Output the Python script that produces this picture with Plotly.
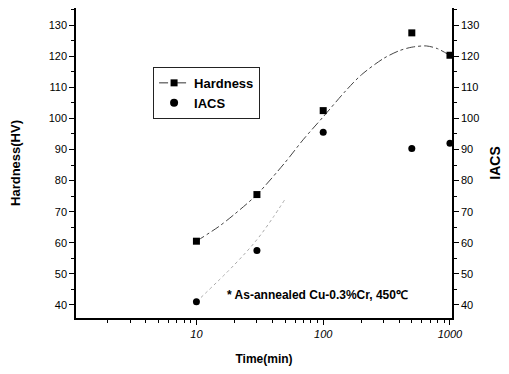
import plotly.graph_objects as go

# Measured data
time_min = [10, 30, 100, 500, 1000]
hardness = [60.5, 75.5, 102.5, 127.5, 120.3]
iacs = [41, 57.5, 95.5, 90.3, 92]

# Fitted hardness curve
fit_time = [10, 15, 20, 30, 50, 70, 100, 150, 200, 300, 400, 500, 650, 800, 1000]
fit_hard = [60.5, 65.2, 69.2, 75.5, 85.8, 93.3, 100.5, 108.8, 114.0, 119.3, 121.8, 122.9, 123.3, 122.4, 120.2]

# Faint IACS curve segment visible in the picture
fit_iacs_time = [10, 20, 30, 40, 50]
fit_iacs = [41, 53, 61, 68, 74]

x_ticks = [10, 100, 1000]
x_minor = [2, 3, 4, 5, 6, 7, 8, 9, 20, 30, 40, 50, 60, 70, 80, 90,
           200, 300, 400, 500, 600, 700, 800, 900]
y_ticks = [40, 50, 60, 70, 80, 90, 100, 110, 120, 130]

FONT = "Liberation Sans, Arial, sans-serif"
fig = go.Figure()

fig.add_trace(go.Scatter(x=fit_time, y=fit_hard, mode="lines", line_shape="spline",
                         line=dict(color="#444", width=1, dash="dashdot", smoothing=0.8),
                         showlegend=False, hoverinfo="skip"))
fig.add_trace(go.Scatter(x=fit_iacs_time, y=fit_iacs, mode="lines", line_shape="spline",
                         line=dict(color="#aaa", width=1, dash="dot"),
                         showlegend=False, hoverinfo="skip", yaxis="y2"))
fig.add_trace(go.Scatter(x=time_min, y=hardness, mode="markers",
                         marker=dict(symbol="square", size=7, color="black"),
                         showlegend=False))
fig.add_trace(go.Scatter(x=time_min, y=iacs, mode="markers", yaxis="y2",
                         marker=dict(symbol="circle", size=7, color="black"),
                         showlegend=False))
# legend entries
fig.add_trace(go.Scatter(x=[None], y=[None], mode="lines+markers", name="Hardness",
                         line=dict(color="#333", width=1, dash="dashdot"),
                         marker=dict(symbol="square", size=7, color="black")))
fig.add_trace(go.Scatter(x=[None], y=[None], mode="markers", name="IACS",
                         marker=dict(symbol="circle", size=8, color="black")))

fig.update_layout(
    width=509, height=374,
    margin=dict(l=76, r=52, t=8, b=56),
    paper_bgcolor="white", plot_bgcolor="white",
    font=dict(family=FONT, color="black", size=11),
    showlegend=True,
    legend=dict(x=0.205, y=0.81, xanchor="left", yanchor="top",
                bordercolor="#222", borderwidth=1, bgcolor="white",
                font=dict(family=FONT, size=13, weight="bold"),
                tracegroupgap=0, itemwidth=30),
    xaxis=dict(type="log", range=[0.05, 3.016], tickvals=x_ticks,
               ticktext=["<i>10</i>", "<i>100</i>", "<i>1000</i>"],
               ticks="outside", ticklen=5, tickwidth=1, tickcolor="black",
               showline=True, linecolor="black", linewidth=1.5, mirror=False,
               showgrid=False, zeroline=False,
               minor=dict(tickvals=x_minor, ticks="outside", ticklen=3, tickcolor="black", showgrid=False),
               title=dict(text="<b>Time(min)</b>", font=dict(size=12), standoff=16)),
    yaxis=dict(range=[35.8, 135.5], tickvals=y_ticks,
               ticks="outside", ticklen=5, tickwidth=1, tickcolor="black",
               showline=True, linecolor="black", linewidth=1.5,
               showgrid=False, zeroline=False,
               minor=dict(dtick=5, tick0=0, ticks="outside", ticklen=3, tickcolor="black", showgrid=False),
               title=dict(text="<b>Hardness(HV)</b>", font=dict(size=13), standoff=25)),
    yaxis2=dict(range=[35.8, 135.5], tickvals=y_ticks, overlaying="y", side="right",
                ticks="outside", ticklen=5, tickwidth=1, tickcolor="black",
                showline=True, linecolor="black", linewidth=1.5,
                showgrid=False, zeroline=False,
                minor=dict(dtick=5, tick0=0, ticks="outside", ticklen=3, tickcolor="black", showgrid=False),
                title=dict(text="<b>IACS</b>", font=dict(size=14), standoff=12)),
    annotations=[dict(x=0.395, y=0.075, xref="paper", yref="paper", xanchor="left", yanchor="middle",
                      text="<b>* As-annealed Cu-0.3%Cr, 450℃</b>", showarrow=False,
                      font=dict(family=FONT, size=12, color="black"))],
)

fig.write_html("out.html")
